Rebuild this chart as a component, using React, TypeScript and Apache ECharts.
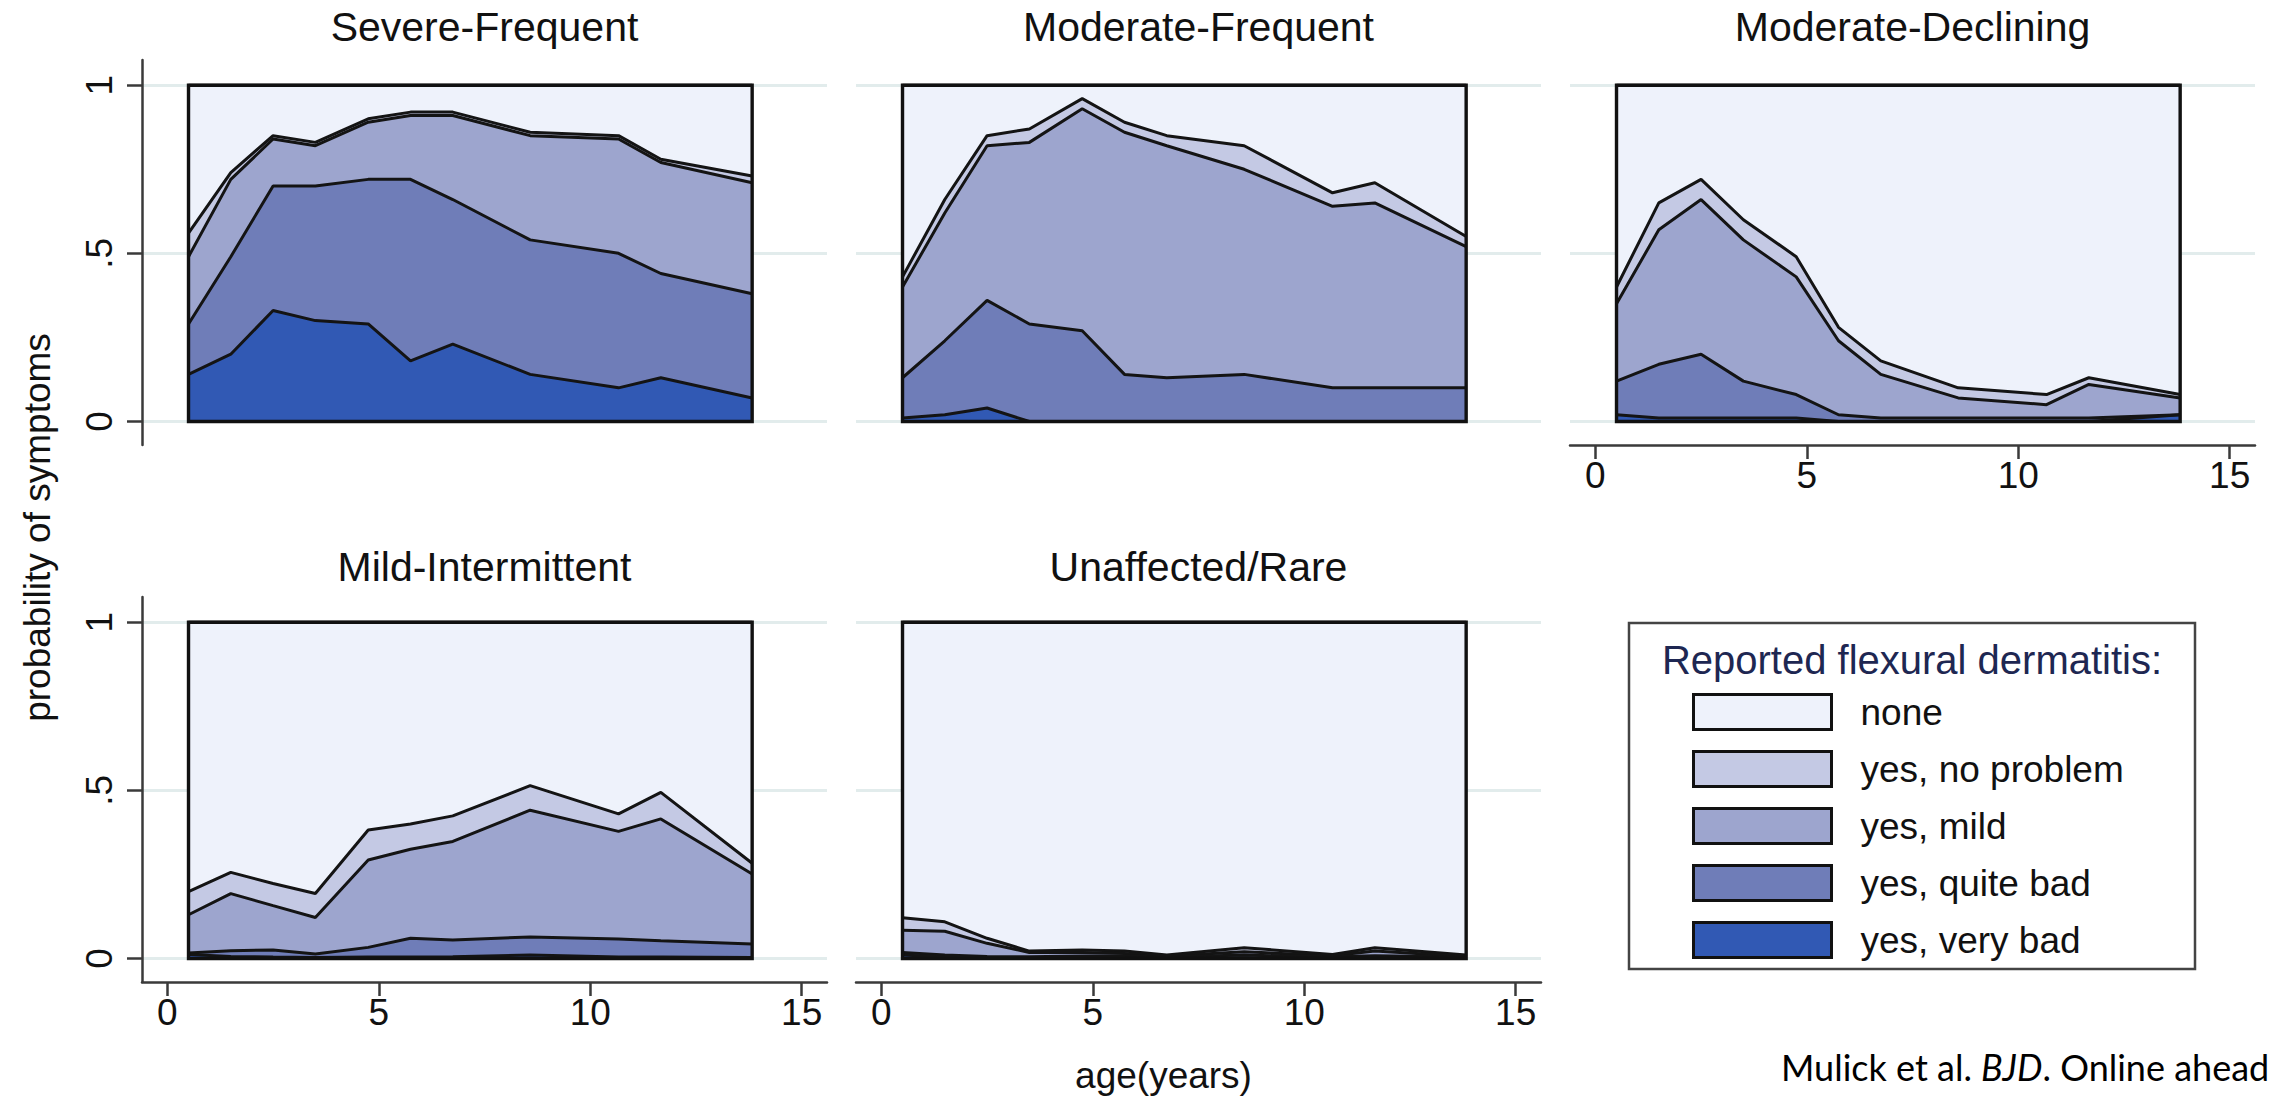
import React, { useEffect, useRef } from 'react';
import * as echarts from 'echarts';

// ---------- data ----------
const ages = [0.5, 1.5, 2.5, 3.5, 4.75, 5.75, 6.75, 8.58, 10.67, 11.67, 13.83];
const xTicks = [0, 5, 10, 15];
const yTicks = [0, 0.5, 1];
const categories = ['none', 'yes, no problem', 'yes, mild', 'yes, quite bad', 'yes, very bad'];
const colors = ['#EEF2FB', '#C4C9E4', '#9DA5CE', '#6F7DB8', '#3159B4'];
const panelTitles = ['Severe-Frequent', 'Moderate-Frequent', 'Moderate-Declining', 'Mild-Intermittent', 'Unaffected/Rare'];

// Severe-Frequent
const sfVeryBad = [0.14, 0.2, 0.33, 0.3, 0.29, 0.18, 0.23, 0.14, 0.1, 0.13, 0.07];
const sfQuiteBad = [0.15, 0.29, 0.37, 0.4, 0.43, 0.54, 0.43, 0.4, 0.4, 0.31, 0.31];
const sfMild = [0.2, 0.23, 0.14, 0.12, 0.17, 0.19, 0.25, 0.31, 0.34, 0.33, 0.33];
const sfNoProblem = [0.07, 0.02, 0.01, 0.01, 0.01, 0.01, 0.01, 0.01, 0.01, 0.01, 0.02];

// Moderate-Frequent
const mfVeryBad = [0.01, 0.02, 0.04, 0.0, 0.0, 0.0, 0.0, 0.0, 0.0, 0.0, 0.0];
const mfQuiteBad = [0.12, 0.22, 0.32, 0.29, 0.27, 0.14, 0.13, 0.14, 0.1, 0.1, 0.1];
const mfMild = [0.27, 0.38, 0.46, 0.54, 0.66, 0.72, 0.69, 0.61, 0.54, 0.55, 0.42];
const mfNoProblem = [0.03, 0.04, 0.03, 0.04, 0.03, 0.03, 0.03, 0.07, 0.04, 0.06, 0.03];

// Moderate-Declining
const mdVeryBad = [0.02, 0.01, 0.01, 0.01, 0.01, 0.0, 0.0, 0.0, 0.0, 0.0, 0.02];
const mdQuiteBad = [0.1, 0.16, 0.19, 0.11, 0.07, 0.02, 0.01, 0.01, 0.01, 0.01, 0.0];
const mdMild = [0.23, 0.4, 0.46, 0.42, 0.35, 0.22, 0.13, 0.06, 0.04, 0.1, 0.05];
const mdNoProblem = [0.05, 0.08, 0.06, 0.06, 0.06, 0.04, 0.04, 0.03, 0.03, 0.02, 0.01];

// Mild-Intermittent
const miVeryBad = [0.012, 0.006, 0.004, 0.003, 0.004, 0.004, 0.005, 0.01, 0.004, 0.004, 0.003];
const miQuiteBad = [0.004, 0.017, 0.021, 0.01, 0.029, 0.056, 0.05, 0.054, 0.054, 0.049, 0.04];
const miMild = [0.114, 0.17, 0.132, 0.109, 0.26, 0.265, 0.293, 0.377, 0.32, 0.362, 0.208];
const miNoProblem = [0.069, 0.063, 0.066, 0.071, 0.089, 0.075, 0.076, 0.073, 0.052, 0.079, 0.032];

// Unaffected/Rare
const urVeryBad = [0.01, 0.004, 0.002, 0.002, 0.002, 0.002, 0.001, 0.002, 0.001, 0.002, 0.001];
const urQuiteBad = [0.008, 0.006, 0.004, 0.003, 0.005, 0.005, 0.003, 0.008, 0.004, 0.006, 0.003];
const urMild = [0.066, 0.071, 0.039, 0.013, 0.011, 0.008, 0.003, 0.01, 0.003, 0.014, 0.002];
const urNoProblem = [0.037, 0.028, 0.015, 0.004, 0.007, 0.007, 0.003, 0.012, 0.004, 0.01, 0.004];

const panelLayers = [
  [sfNoProblem, sfMild, sfQuiteBad, sfVeryBad],
  [mfNoProblem, mfMild, mfQuiteBad, mfVeryBad],
  [mdNoProblem, mdMild, mdQuiteBad, mdVeryBad],
  [miNoProblem, miMild, miQuiteBad, miVeryBad],
  [urNoProblem, urMild, urQuiteBad, urVeryBad],
];

// ---------- layout ----------
const FONT = '"Liberation Sans", Arial, Helvetica, sans-serif';
const colLeft = [142, 856, 1570];
const rowTop = [60, 597];
const gridW = 685;
const gridH = 385;
const titleY = [26.5, 566.5];
const panelPos = [
  [0, 0],
  [1, 0],
  [2, 0],
  [0, 1],
  [1, 1],
];
const showXAxis = [false, false, true, true, true];
const AXIS_COLOR = '#3a3a3a';

function buildOption() {
  const grids: any[] = [];
  const xAxes: any[] = [];
  const yAxes: any[] = [];
  const series: any[] = [];
  const graphics: any[] = [];

  panelLayers.forEach((layers, p) => {
    const [col, row] = panelPos[p];
    const showY = col === 0;
    const showX = showXAxis[p];
    grids.push({
      left: colLeft[col],
      top: rowTop[row],
      width: gridW,
      height: gridH,
      containLabel: false,
      outerBoundsMode: 'none',
    });
    xAxes.push({
      type: 'value',
      gridIndex: p,
      min: -0.6,
      max: 15.6,
      axisLine: { show: showX, onZero: false, lineStyle: { color: AXIS_COLOR, width: 2.5 } },
      axisTick: { show: showX, customValues: xTicks, length: 14, lineStyle: { color: AXIS_COLOR, width: 2.5 } },
      axisLabel: {
        show: showX,
        customValues: xTicks,
        fontSize: 37,
        fontFamily: FONT,
        color: '#111',
        margin: 12,
      },
      splitLine: { show: false },
    });
    yAxes.push({
      type: 'value',
      gridIndex: p,
      min: -0.07,
      max: 1.075,
      axisLine: { show: showY, onZero: false, lineStyle: { color: AXIS_COLOR, width: 2.5 } },
      axisTick: { show: showY, customValues: yTicks, length: 15, lineStyle: { color: AXIS_COLOR, width: 2.5 } },
      axisLabel: {
        show: showY,
        customValues: yTicks,
        rotate: 90,
        fontSize: 37,
        fontFamily: FONT,
        color: '#111',
        margin: 24,
        formatter: (v: number) => (v === 0.5 ? '.5' : String(v)),
      },
      splitLine: { show: true, lineStyle: { color: '#E2ECEC', width: 3 } },
    });

    const [np, mild, qb, vb] = layers;
    const cumVB = vb.slice();
    const cumQB = cumVB.map((v, i) => v + qb[i]);
    const cumMild = cumQB.map((v, i) => v + mild[i]);
    const cumNP = cumMild.map((v, i) => v + np[i]);
    const none = cumNP.map((v) => 1 - v);
    const cumNone = cumNP.map((v, i) => v + none[i]);
    const cums = [cumNone, cumNP, cumMild, cumQB, cumVB];

    cums.forEach((c, k) => {
      series.push({
        type: 'line',
        name: categories[k],
        xAxisIndex: p,
        yAxisIndex: p,
        data: ages.map((a, i) => [a, c[i]]),
        symbol: 'none',
        silent: true,
        z: 2,
        itemStyle: { color: colors[k] },
        lineStyle: { color: '#141414', width: 3 },
        areaStyle: { color: colors[k], opacity: 1 },
      });
    });

    series.push({
      type: 'custom',
      xAxisIndex: p,
      yAxisIndex: p,
      silent: true,
      z: 10,
      data: [[ages[0], 0, ages[ages.length - 1], 1]],
      encode: { x: [0, 2], y: [1, 3] },
      renderItem: (params: any, api: any) => {
        const tl = api.coord([api.value(0), api.value(3)]);
        const br = api.coord([api.value(2), api.value(1)]);
        return {
          type: 'rect',
          shape: { x: tl[0], y: tl[1], width: br[0] - tl[0], height: br[1] - tl[1] },
          style: { fill: 'none', stroke: '#111', lineWidth: 3.4 },
        };
      },
    });

    graphics.push({
      type: 'text',
      x: colLeft[col] + gridW / 2,
      y: titleY[row],
      style: {
        text: panelTitles[p],
        fontSize: 41,
        fontFamily: FONT,
        fill: '#111',
        align: 'center',
        verticalAlign: 'middle',
      },
    });
  });

  // axis titles
  graphics.push({
    type: 'text',
    x: 37.5,
    y: 527.5,
    rotation: Math.PI / 2,
    style: {
      text: 'probability of symptoms',
      fontSize: 37,
      fontFamily: FONT,
      fill: '#111',
      align: 'center',
      verticalAlign: 'middle',
    },
  });
  graphics.push({
    type: 'text',
    x: 1163.5,
    y: 1075,
    style: {
      text: 'age(years)',
      fontSize: 37,
      fontFamily: FONT,
      fill: '#111',
      align: 'center',
      verticalAlign: 'middle',
    },
  });

  // legend frame + title
  graphics.push({
    type: 'rect',
    shape: { x: 1629, y: 623, width: 566, height: 346 },
    style: { fill: '#fff', stroke: '#444', lineWidth: 2.5 },
    z: -1,
  });
  graphics.push({
    type: 'text',
    x: 1912,
    y: 660,
    style: {
      text: 'Reported flexural dermatitis:',
      fontSize: 40,
      fontFamily: FONT,
      fill: '#1E2752',
      align: 'center',
      verticalAlign: 'middle',
    },
  });

  // credit
  graphics.push({
    type: 'text',
    x: 1781,
    y: 1067,
    style: {
      text: '{a|Mulick et al. }{b|BJD}{a|. Online ahead}',
      fill: '#000',
      align: 'left',
      verticalAlign: 'middle',
      rich: {
        a: { fontSize: 36, fontFamily: 'Lato, "Open Sans", sans-serif', fill: '#000' },
        b: { fontSize: 36, fontFamily: 'Lato, "Open Sans", sans-serif', fontStyle: 'italic', fill: '#000' },
      },
    },
  });

  return {
    animation: false,
    backgroundColor: '#ffffff',
    grid: grids,
    xAxis: xAxes,
    yAxis: yAxes,
    series,
    legend: {
      data: categories.map((n, k) => ({
        name: n,
        icon: 'rect',
        itemStyle: { color: colors[k], borderColor: '#111', borderWidth: 3 },
      })),
      orient: 'vertical',
      left: 1692,
      top: 693,
      itemWidth: 138,
      itemHeight: 35,
      itemGap: 19,
      padding: 0,
      selectedMode: false,
      textStyle: { fontSize: 37, fontFamily: FONT, color: '#111', padding: [0, 0, 0, 24] },
    },
    graphic: graphics,
  };
}

export default function App() {
  const ref = useRef<HTMLDivElement>(null);
  useEffect(() => {
    if (!ref.current) return;
    const chart = echarts.init(ref.current, null, { renderer: 'svg' });
    chart.setOption(buildOption() as any);
    return () => chart.dispose();
  }, []);
  return (
    <div
      ref={ref}
      style={{ position: 'absolute', left: 0, top: 0, width: 2272, height: 1101, background: '#fff' }}
    />
  );
}
